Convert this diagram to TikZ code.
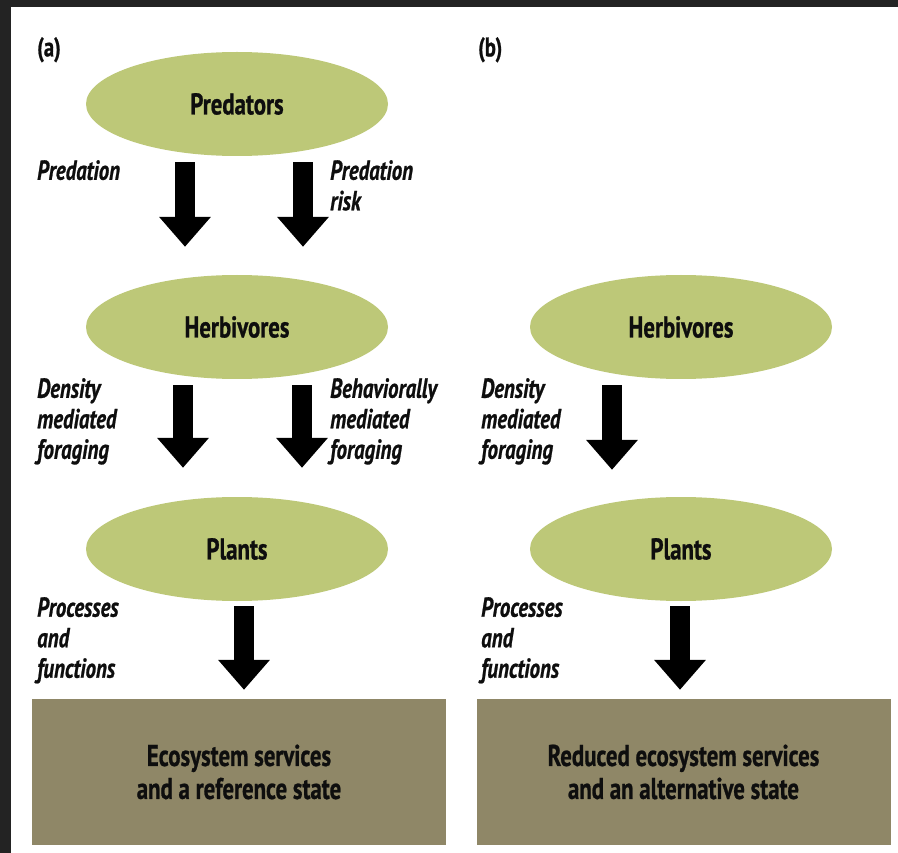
\documentclass[tikz,border=0pt]{standalone}
\usepackage{fontspec}
\setmainfont{PT Sans}[FakeStretch=0.76,FakeBold=0.8]
\usetikzlibrary{arrows.meta,shapes.geometric}
\definecolor{leaf}{HTML}{BDC878}
\definecolor{soil}{HTML}{8F8767}
\definecolor{frame}{HTML}{232323}
\definecolor{ink}{HTML}{0E0E0E}
\tikzset{
  x=1pt, y=-1pt,
  level/.style={ellipse, fill=leaf, minimum width=302pt, minimum height=104pt,
    inner sep=0pt, font=\fontsize{30}{30}\selectfont\bfseries, text=ink},
  outcome/.style={rectangle, fill=soil, minimum width=414pt, minimum height=146pt,
    inner sep=0pt, align=center, font=\fontsize{30}{33}\selectfont\bfseries, text=ink},
  fat/.style={line width=20pt, draw=black, -{Triangle[width=50pt,length=30pt]}},
  effect/.style={anchor=north west, inner sep=0pt, align=left,
    font=\fontsize{27.5}{30.5}\selectfont\bfseries\itshape, text=ink},
  panel/.style={anchor=north west, inner sep=0pt, font=\fontsize{27}{30}\selectfont\bfseries, text=ink}
}
\begin{document}
\begin{tikzpicture}
% page and dark frame
\fill[frame] (0,0) rectangle (898,853);
\fill[white] (11,7) rectangle (898,853);
\useasboundingbox (0,0) rectangle (898,853);

% panel (a)
\node[panel] (la) at (37,37) {(a)};
\node[level] (pred) at (237,104) {Predators};
\node[level] (herbA) at (237,327) {Herbivores};
\node[level] (plantA) at (237,549) {Plants};
\node[outcome] (servA) at (239,772) {Ecosystem services\\and a reference state};

\draw[fat] ([xshift=-52pt,yshift=-6pt]pred.south) -- ([xshift=-52pt,yshift=28pt]herbA.north);
\draw[fat] ([xshift=66pt,yshift=-6pt]pred.south) -- ([xshift=66pt,yshift=28pt]herbA.north);
\draw[fat] ([xshift=-54pt,yshift=-6pt]herbA.south) -- ([xshift=-54pt,yshift=29pt]plantA.north);
\draw[fat] ([xshift=65pt,yshift=-6pt]herbA.south) -- ([xshift=65pt,yshift=29pt]plantA.north);
\draw[fat] ([xshift=7pt,yshift=-5pt]plantA.south) -- ([xshift=5pt,yshift=9pt]servA.north);

\node[effect] (tPred) at (37,160) {Predation};
\node[effect] (tRisk) at (330,160) {Predation\\risk};
\node[effect] (tDensA) at (37,378) {Density\\mediated\\foraging};
\node[effect] (tBeh) at (330,378) {Behaviorally\\mediated\\foraging};
\node[effect] (tProcA) at (37,597) {Processes\\and\\functions};

% panel (b)
\node[panel] (lb) at (478,37) {(b)};
\node[level] (herbB) at (681,327) {Herbivores};
\node[level] (plantB) at (681,549) {Plants};
\node[outcome] (servB) at (683.5,772) {Reduced ecosystem services\\and an alternative state};

\draw[fat] ([xshift=-69pt,yshift=-6pt]herbB.south) -- ([xshift=-69pt,yshift=27pt]plantB.north);
\draw[fat] ([xshift=-1pt,yshift=-5pt]plantB.south) -- ([xshift=-3.5pt,yshift=9pt]servB.north);

\node[effect] (tDensB) at (481,378) {Density\\mediated\\foraging};
\node[effect] (tProcB) at (481,597) {Processes\\and\\functions};
\end{tikzpicture}
\end{document}
